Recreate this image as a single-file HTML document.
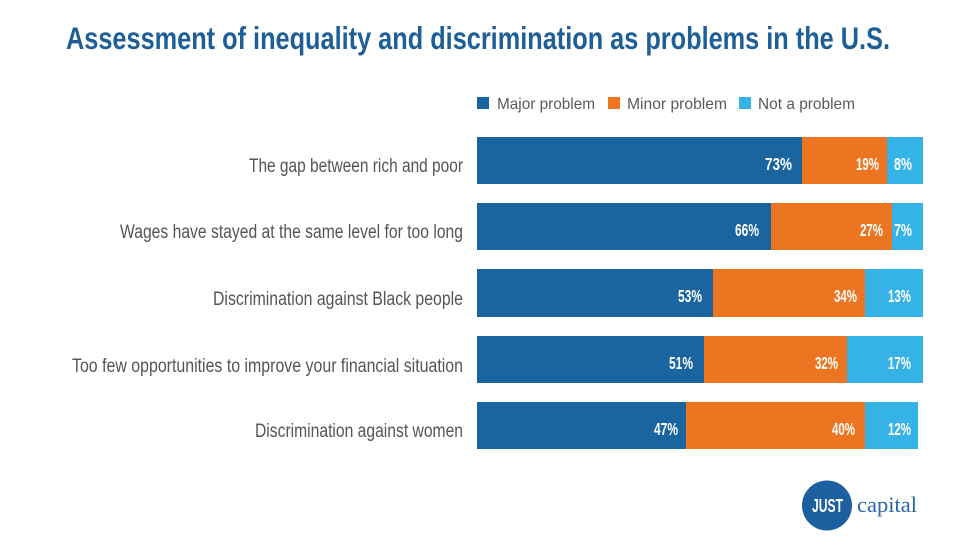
<!DOCTYPE html>
<html><head><meta charset="utf-8"><style>
html,body{margin:0;padding:0;background:#fff;}
svg{display:block;}
</style></head><body>
<svg width="980" height="544" viewBox="0 0 980 544" xmlns="http://www.w3.org/2000/svg">
<rect width="980" height="544" fill="#fff"/>
<text x="66" y="49" font-family="Liberation Sans, sans-serif" font-weight="bold" font-size="31.5" fill="#1f5f97" textLength="824" lengthAdjust="spacingAndGlyphs">Assessment of inequality and discrimination as problems in the U.S.</text>

<g font-family="Liberation Sans, sans-serif" font-size="16" fill="#5a5a5a">
<rect x="477" y="97" width="12" height="12" fill="#1a64a0"/>
<text x="497" y="109" textLength="98" lengthAdjust="spacingAndGlyphs">Major problem</text>
<rect x="608" y="97" width="12" height="12" fill="#ec7522"/>
<text x="627" y="109" textLength="100" lengthAdjust="spacingAndGlyphs">Minor problem</text>
<rect x="739" y="97" width="12" height="12" fill="#35b2e6"/>
<text x="758" y="109" textLength="97" lengthAdjust="spacingAndGlyphs">Not a problem</text>
</g>

<g font-family="Liberation Sans, sans-serif" font-size="19" fill="#555" text-anchor="end">
<text x="463" y="172" textLength="214" lengthAdjust="spacingAndGlyphs">The gap between rich and poor</text>
<text x="463" y="238" textLength="343" lengthAdjust="spacingAndGlyphs">Wages have stayed at the same level for too long</text>
<text x="463" y="305" textLength="250" lengthAdjust="spacingAndGlyphs">Discrimination against Black people</text>
<text x="463" y="372" textLength="391" lengthAdjust="spacingAndGlyphs">Too few opportunities to improve your financial situation</text>
<text x="463" y="437" textLength="208" lengthAdjust="spacingAndGlyphs">Discrimination against women</text>
</g>

<!-- bars -->
<g>
<rect x="477" y="137" width="325" height="47" fill="#1a64a0"/>
<rect x="802" y="137" width="85" height="47" fill="#ec7522"/>
<rect x="887" y="137" width="36" height="47" fill="#35b2e6"/>

<rect x="477" y="203" width="294" height="47" fill="#1a64a0"/>
<rect x="771" y="203" width="121" height="47" fill="#ec7522"/>
<rect x="892" y="203" width="31" height="47" fill="#35b2e6"/>

<rect x="477" y="269" width="236" height="48" fill="#1a64a0"/>
<rect x="713" y="269" width="152" height="48" fill="#ec7522"/>
<rect x="865" y="269" width="58" height="48" fill="#35b2e6"/>

<rect x="477" y="336" width="227" height="47" fill="#1a64a0"/>
<rect x="704" y="336" width="143" height="47" fill="#ec7522"/>
<rect x="847" y="336" width="76" height="47" fill="#35b2e6"/>

<rect x="477" y="402" width="209" height="47" fill="#1a64a0"/>
<rect x="686" y="402" width="179" height="47" fill="#ec7522"/>
<rect x="865" y="402" width="53" height="47" fill="#35b2e6"/>
</g>

<g font-family="Liberation Sans, sans-serif" font-weight="bold" font-size="17.5" fill="#fff" text-anchor="end">
<text x="792" y="170" textLength="27" lengthAdjust="spacingAndGlyphs">73%</text>
<text x="879" y="170" textLength="23" lengthAdjust="spacingAndGlyphs">19%</text>
<text x="912" y="170" textLength="18" lengthAdjust="spacingAndGlyphs">8%</text>

<text x="759" y="236" textLength="24" lengthAdjust="spacingAndGlyphs">66%</text>
<text x="883" y="236" textLength="23" lengthAdjust="spacingAndGlyphs">27%</text>
<text x="912" y="236" textLength="18" lengthAdjust="spacingAndGlyphs">7%</text>

<text x="702" y="302" textLength="24" lengthAdjust="spacingAndGlyphs">53%</text>
<text x="857" y="302" textLength="23" lengthAdjust="spacingAndGlyphs">34%</text>
<text x="911" y="302" textLength="23" lengthAdjust="spacingAndGlyphs">13%</text>

<text x="693" y="369" textLength="24" lengthAdjust="spacingAndGlyphs">51%</text>
<text x="838" y="369" textLength="23" lengthAdjust="spacingAndGlyphs">32%</text>
<text x="911" y="369" textLength="23" lengthAdjust="spacingAndGlyphs">17%</text>

<text x="678" y="435" textLength="24" lengthAdjust="spacingAndGlyphs">47%</text>
<text x="855" y="435" textLength="23" lengthAdjust="spacingAndGlyphs">40%</text>
<text x="911" y="435" textLength="23" lengthAdjust="spacingAndGlyphs">12%</text>
</g>

<!-- logo -->
<circle cx="827" cy="505.5" r="25" fill="#1c60a0"/>
<text x="812" y="512" font-family="Liberation Sans, sans-serif" font-weight="bold" font-size="18" fill="#fff" textLength="31" lengthAdjust="spacingAndGlyphs">JUST</text>
<text x="857" y="512" font-family="Liberation Serif, serif" font-size="22" fill="#2a66a6" textLength="60" lengthAdjust="spacingAndGlyphs">capital</text>
</svg>
</body></html>
